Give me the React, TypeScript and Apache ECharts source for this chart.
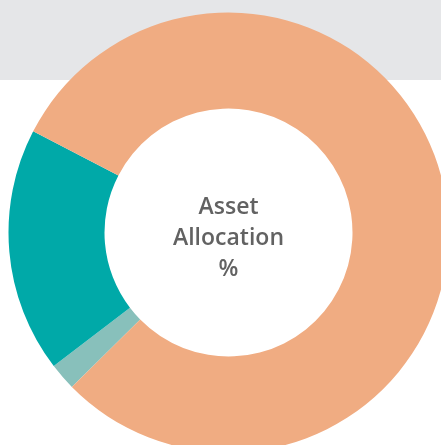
import React, { useEffect, useRef } from "react";
import * as echarts from "echarts";

const categories = ["Cash", "Fixed Income", "Equities"];
const values = [2, 18, 80];
const colors = ["#88c0bb", "#00a9a8", "#f0ac82"];
const centerLines = ["Asset", "Allocation", "%"];

export default function App() {
  const ref = useRef<HTMLDivElement>(null);
  useEffect(() => {
    if (!ref.current) return;
    const chart = echarts.init(ref.current, undefined, { renderer: "svg" });
    chart.setOption({
      animation: false,
      graphic: [
        {
          type: "rect",
          z: -10,
          shape: { x: 0, y: 0, width: 441, height: 80 },
          style: { fill: "#e5e6e8" },
          silent: true,
        },
        {
          type: "text",
          z: 100,
          x: 228.5,
          y: 236,
          style: {
            text: centerLines.join("\n"),
            align: "center",
            verticalAlign: "middle",
            fill: "#626262",
            font: "600 23px 'Open Sans'",
            lineHeight: 31,
          },
        },
      ],
      series: [
        {
          type: "pie",
          center: [228.5, 232.5],
          radius: [124, 220],
          startAngle: 224.6,
          clockwise: true,
          label: { show: false },
          labelLine: { show: false },
          itemStyle: { borderWidth: 0 },
          emphasis: { disabled: true },
          data: categories.map((name, i) => ({
            name,
            value: values[i],
            itemStyle: { color: colors[i] },
          })),
        },
      ],
    });
    return () => chart.dispose();
  }, []);
  return (
    <div
      ref={ref}
      style={{ position: "fixed", left: 0, top: 0, width: 441, height: 445 }}
    />
  );
}
